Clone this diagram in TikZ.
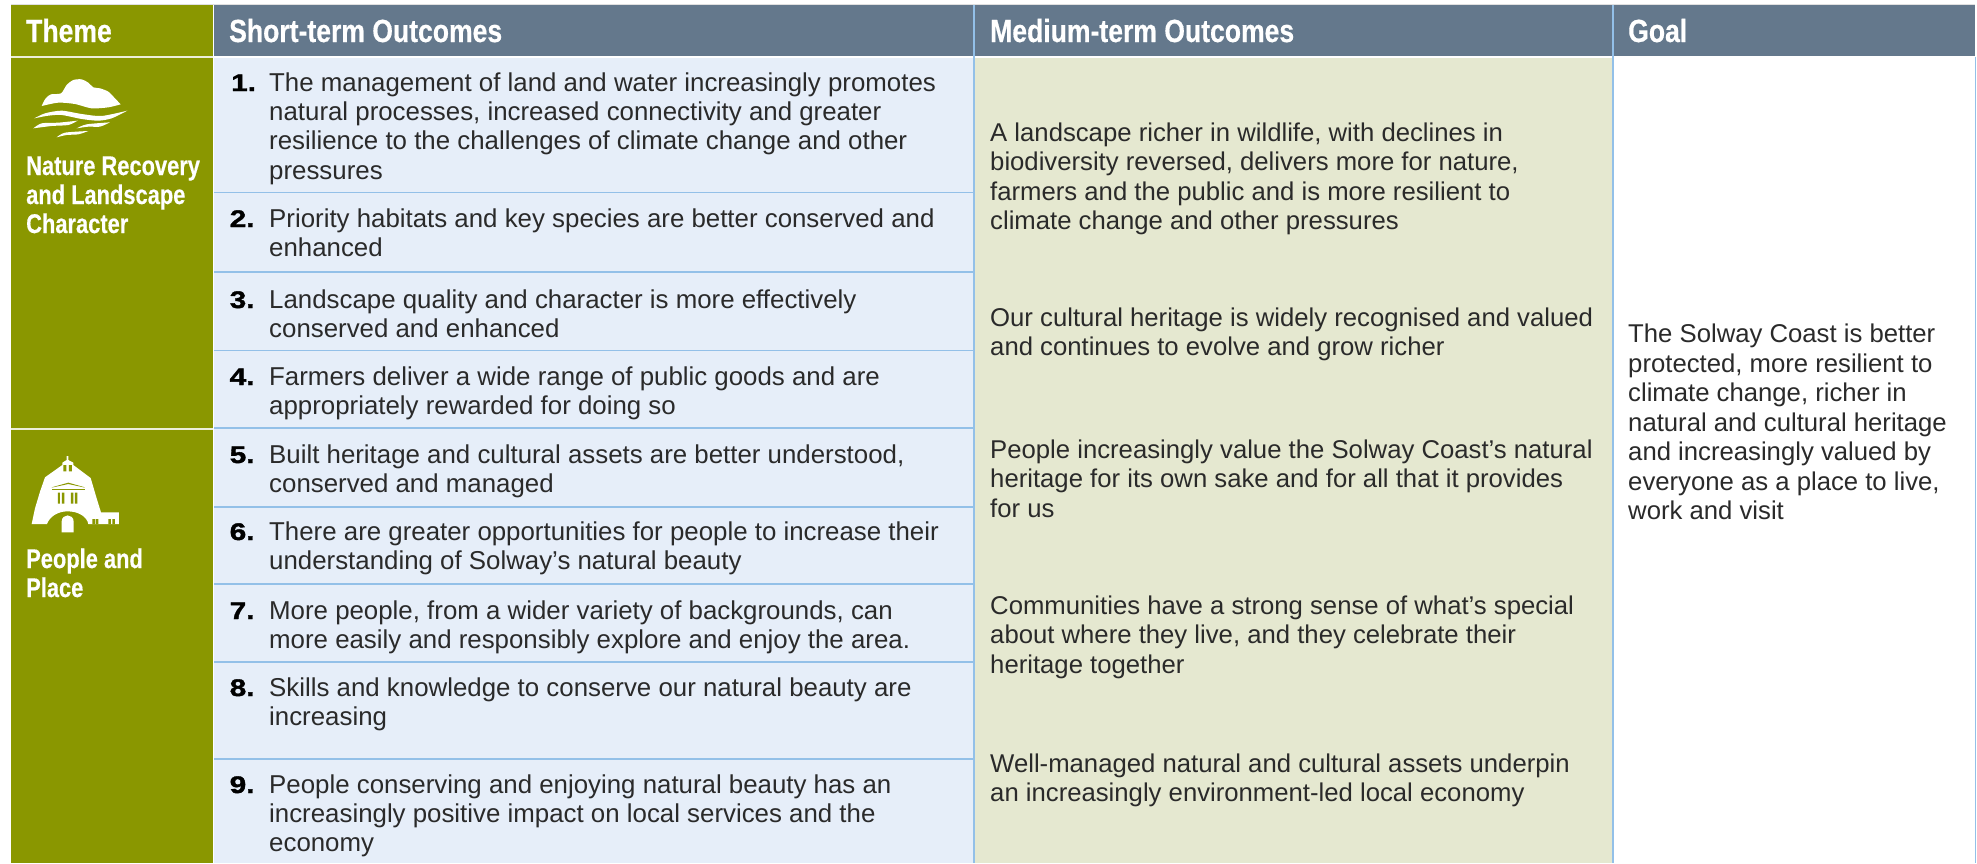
\documentclass[tikz,border=0pt]{standalone}
\usepackage{fontspec}
\setmainfont{Liberation Sans}
\newfontfamily\headfont[FakeStretch=0.83,FakeBold=0.5]{Liberation Sans Bold}
\newfontfamily\themefont[FakeStretch=0.81,FakeBold=0.4]{Liberation Sans Bold}
\newfontfamily\numfont[FakeStretch=1.24,FakeBold=1.6]{Liberation Sans Bold}
\definecolor{olive}{HTML}{8A9700}
\definecolor{slate}{HTML}{64788C}
\definecolor{paleblue}{HTML}{E6EEF9}
\definecolor{beige}{HTML}{E5E8D0}
\definecolor{rulecol}{HTML}{93C0E8}
\definecolor{inkcol}{HTML}{2A2A2A}
\newcommand\cellrows[1]{\begin{tabular}[t]{@{}l@{}}#1\end{tabular}}
\tikzset{
 body/.style={anchor=base west,inner sep=0pt,text=inkcol,font=\fontsize{25.85}{29.35}\selectfont},
 bodyb/.style={anchor=base west,inner sep=0pt,text=inkcol,font=\fontsize{25.7}{29.5}\selectfont},
 numlabel/.style={anchor=base west,inner sep=0pt,text=black,font=\numfont\fontsize{24}{29}\selectfont},
 headlabel/.style={anchor=base west,inner sep=0pt,text=white,font=\headfont\fontsize{32}{30}\selectfont},
 themelabel/.style={anchor=base west,inner sep=0pt,text=white,font=\themefont\fontsize{27}{29}\selectfont},
 rowrule/.style={draw=rulecol,line width=1.4pt},
 sep/.style={draw=#1,line width=1.6pt},
 waveshape/.style={fill=white,draw=none}
}
\begin{document}
\begin{tikzpicture}[x=1pt,y=-1pt]
\useasboundingbox (0,0) rectangle (1977,863);
\fill[white] (0,0) rectangle (1977,863);
% backgrounds
\fill[olive] (11,5) rectangle (213,863);
\fill[slate] (214,5) rectangle (1975,57);
\fill[paleblue] (214,57) rectangle (974,863);
\fill[beige] (974,57) rectangle (1613,863);
\draw[line width=1pt,draw=black!12] (11,4.5) -- (1975,4.5);
% separators
\draw[sep=white!85!olive] (11,57) -- (213,57);
\draw[sep=white!85!olive] (11,429) -- (213,429);
\draw[sep=white] (214,57) -- (1975,57);
\draw[sep=white] (213.5,5) -- (213.5,863);
\foreach \yy in {192.5,272,350.5,428,507,584,662,759}
  \draw[rowrule] (214,\yy) -- (974,\yy);
\draw[rowrule] (974,5) -- (974,863);
\draw[rowrule] (1613,5) -- (1613,863);
\draw[rowrule] (1975.5,57) -- (1975.5,863);
% headers
\node[headlabel] (hTheme) at (26,42) {Theme};
\node[headlabel] (hShort) at (229,42) {Short-term Outcomes};
\node[headlabel] (hMedium) at (990,42) {Medium-term Outcomes};
\node[headlabel] (hGoal) at (1628,42) {Goal};
% theme labels
\node[themelabel] (tNature) at (26,175) {\cellrows{Nature Recovery\\and Landscape\\Character}};
\node[themelabel] (tPeople) at (26,568) {\cellrows{People and\\Place}};
% icon: hill and waves
\begin{scope}[shift={(25,70)},x=.3333pt,y=-.3333pt]
\fill[waveshape] plot[smooth,tension=.45] coordinates {(50,108)(62,85)(78,73)(108,70)(125,45)(145,30)(170,28)(190,38)(205,52)(225,55)(250,65)(270,85)(287,103)} -- plot[smooth,tension=.45] coordinates {(287,103)(250,112)(200,115)(150,102)(100,98)(50,108)} -- cycle;
\fill[waveshape] plot[smooth,tension=.45] coordinates {(28,145)(60,130)(110,122)(170,132)(230,138)(307,122)} -- plot[smooth,tension=.45] coordinates {(307,122)(260,145)(220,152)(170,147)(110,135)(70,137)(28,145)} -- cycle;
\fill[waveshape] plot[smooth,tension=.45] coordinates {(25,175)(50,160)(100,158)(158,152)} -- plot[smooth,tension=.45] coordinates {(158,152)(130,165)(80,168)(25,175)} -- cycle;
\fill[waveshape] plot[smooth,tension=.45] coordinates {(155,175)(185,163)(255,157)} -- plot[smooth,tension=.45] coordinates {(255,157)(225,170)(190,170)(155,175)} -- cycle;
\fill[waveshape] plot[smooth,tension=.45] coordinates {(95,202)(120,188)(190,183)} -- plot[smooth,tension=.45] coordinates {(190,183)(160,193)(125,195)(95,202)} -- cycle;
\end{scope}
% icon: building
\begin{scope}[shift={(25,450)},x=.3333pt,y=-.3333pt]
\fill[white] (20,222) -- (30,175) -- (45,125) -- (60,82) -- (112,45) -- (112,38) -- (125,30) -- (125,18) -- (130,18) -- (130,30) -- (145,38) -- (145,45) -- (197,84) -- (215,145) -- (228,187) -- (282,187) -- (282,222) -- (190,222) .. controls (186,200) and (160,184) .. (128,184) .. controls (98,184) and (74,200) .. (66,222) -- cycle;
\fill[olive] (80,112) -- (130,98) -- (180,112) -- (176,112) -- (130,102) -- (84,112) -- cycle;
\fill[olive] (80,116) rectangle (180,119);
\fill[olive] (115,45) rectangle (124,64) (132,45) rectangle (141,64);
\fill[olive] (99,128) rectangle (105,161) (111,128) rectangle (118,161) (138,128) rectangle (145,161) (150,128) rectangle (157,161);
\fill[olive] (202,207) rectangle (210,222) (212,207) rectangle (220,222) (250,207) rectangle (258,222) (262,207) rectangle (270,222);
\fill[white] (110,247) -- (110,215) .. controls (110,190) and (146,190) .. (146,215) -- (146,247) -- cycle;
\end{scope}
% numbers
\node[numlabel] (n1) at (231,91) {1.};
\node[numlabel] (n2) at (229.5,227) {2.};
\node[numlabel] (n3) at (229.5,308) {3.};
\node[numlabel] (n4) at (229.5,385) {4.};
\node[numlabel] (n5) at (229.5,463) {5.};
\node[numlabel] (n6) at (229.5,540) {6.};
\node[numlabel] (n7) at (229.5,619) {7.};
\node[numlabel] (n8) at (229.5,696) {8.};
\node[numlabel] (n9) at (229.5,793) {9.};
% short-term
\node[body] (s1) at (269,91) {\cellrows{The management of land and water increasingly promotes\\natural processes, increased connectivity and greater\\resilience to the challenges of climate change and other\\pressures}};
\node[body] (s2) at (269,227) {\cellrows{Priority habitats and key species are better conserved and\\enhanced}};
\node[body] (s3) at (269,308) {\cellrows{Landscape quality and character is more effectively\\conserved and enhanced}};
\node[body] (s4) at (269,385) {\cellrows{Farmers deliver a wide range of public goods and are\\appropriately rewarded for doing so}};
\node[body] (s5) at (269,463) {\cellrows{Built heritage and cultural assets are better understood,\\conserved and managed}};
\node[body] (s6) at (269,540) {\cellrows{There are greater opportunities for people to increase their\\understanding of Solway’s natural beauty}};
\node[body] (s7) at (269,619) {\cellrows{More people, from a wider variety of backgrounds, can\\more easily and responsibly explore and enjoy the area.}};
\node[body] (s8) at (269,696) {\cellrows{Skills and knowledge to conserve our natural beauty are\\increasing}};
\node[body] (s9) at (269,793) {\cellrows{People conserving and enjoying natural beauty has an\\increasingly positive impact on local services and the\\economy}};
% medium
\node[bodyb] (m1) at (990,141) {\cellrows{A landscape richer in wildlife, with declines in\\biodiversity reversed, delivers more for nature,\\farmers and the public and is more resilient to\\climate change and other pressures}};
\node[bodyb] (m2) at (990,326) {\cellrows{Our cultural heritage is widely recognised and valued\\and continues to evolve and grow richer}};
\node[bodyb] (m3) at (990,458) {\cellrows{People increasingly value the Solway Coast’s natural\\heritage for its own sake and for all that it provides\\for us}};
\node[bodyb] (m4) at (990,614) {\cellrows{Communities have a strong sense of what’s special\\about where they live, and they celebrate their\\heritage together}};
\node[bodyb] (m5) at (990,772) {\cellrows{Well-managed natural and cultural assets underpin\\an increasingly environment-led local economy}};
% goal
\node[bodyb] (g1) at (1628,342.5) {\cellrows{The Solway Coast is better\\protected, more resilient to\\climate change, richer in\\natural and cultural heritage\\and increasingly valued by\\everyone as a place to live,\\work and visit}};
\end{tikzpicture}
\end{document}
